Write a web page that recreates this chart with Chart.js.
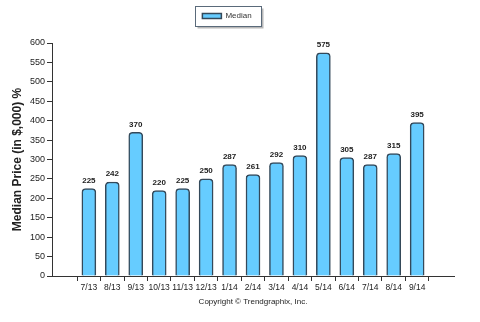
<!DOCTYPE html>
<html>
<head>
<meta charset="utf-8">
<script src="https://cdn.jsdelivr.net/npm/chart.js@4/dist/chart.umd.min.js"></script>
<style>
  html, body { margin: 0; padding: 0; background: #fff; }
  #wrap { width: 480px; height: 322px; }
</style>
</head>
<body>
<div id="wrap"><canvas id="canvas"></canvas></div>
<script>
// monthly median sale price, in $,000
var months = ["7/13", "8/13", "9/13", "10/13", "11/13", "12/13", "1/14", "2/14",
              "3/14", "4/14", "5/14", "6/14", "7/14", "8/14", "9/14"];
var median = [225, 242, 370, 220, 225, 250, 287, 261, 292, 310, 575, 305, 287, 315, 395];
var yTicks = [0, 50, 100, 150, 200, 250, 300, 350, 400, 450, 500, 550, 600];

var FONT = "'Liberation Sans', Arial, sans-serif";
var NARROW = "'Liberation Sans Narrow', 'Arial Narrow', sans-serif";
var BAR_FILL = "#66ccff";
var BAR_EDGE = "#34495a";

// value over every bar
var valueLabels = {
    id: "valueLabels",
    afterDatasetsDraw: function(chart) {
        var ctx = chart.ctx;
        var meta = chart.getDatasetMeta(0);
        ctx.save();
        ctx.font = "bold 8px " + FONT;
        ctx.fillStyle = "#222";
        ctx.textAlign = "center";
        ctx.textBaseline = "bottom";
        meta.data.forEach(function(bar, i) {
            ctx.fillText(String(median[i]), bar.x, bar.y - 4);
        });
        ctx.restore();
    }
};

// keep the legend band a fixed height so the plot starts lower
var legendHeight = {
    id: "legendHeight",
    beforeLayout: function(chart) {
        var lg = chart.legend;
        if (!lg || lg._fixedFit) return;
        var fit = lg.fit;
        lg.fit = function() {
            fit.call(this);
            this.height = 43;
        };
        lg._fixedFit = true;
    }
};

// framed legend with a small drop shadow
var legendFrame = {
    id: "legendFrame",
    beforeDraw: function(chart) {
        var boxes = chart.legend && chart.legend.legendHitBoxes;
        if (!boxes || !boxes.length) return;
        var hb = boxes[0];
        var cy = hb.top + hb.height / 2;
        var x = Math.round(hb.left) - 6.5, y = Math.round(cy - 10) + 0.5;
        var w = Math.round(hb.width) + 17, h = 20;
        var ctx = chart.ctx;
        ctx.save();
        ctx.fillStyle = "#b8b8b8";
        ctx.fillRect(x + 2, y + 2, w, h);
        ctx.fillStyle = "#fff";
        ctx.fillRect(x, y, w, h);
        ctx.strokeStyle = "#5a6a7a";
        ctx.lineWidth = 1;
        ctx.strokeRect(x, y, w, h);
        ctx.restore();
    }
};

var ctx = document.getElementById("canvas");

var barGraph = new Chart(ctx, {
    type: "bar",
    data: {
        datasets: [{
            label: "Median",
            data: median.map(function(v, i) { return { x: i, y: v }; }),
            backgroundColor: BAR_FILL,
            borderColor: BAR_EDGE,
            borderWidth: 1.5,
            borderSkipped: "bottom",
            borderRadius: { topLeft: 4, topRight: 4 },
            barThickness: 14
        }]
    },
    plugins: [legendHeight, legendFrame, valueLabels],
    options: {
        responsive: true,
        maintainAspectRatio: false,
        animation: false,
        layout: { padding: { left: 0, right: 26, top: 0, bottom: 10 } },
        plugins: {
            tooltip: { enabled: false },
            legend: {
                position: "top",
                labels: {
                    boxWidth: 19,
                    boxHeight: 5,
                    padding: 12,
                    color: "#333",
                    font: { family: FONT, size: 8 }
                }
            }
        },
        scales: {
            x: {
                type: "linear",
                min: -1,
                max: months.length,
                afterBuildTicks: function(scale) {
                    scale.ticks = months.map(function(m, i) { return { value: i }; });
                },
                afterFit: function(scale) { scale.height = 36; },
                grid: {
                    drawOnChartArea: false,
                    drawTicks: true,
                    tickLength: 5,
                    color: "#333"
                },
                border: { color: "#333", width: 1 },
                ticks: {
                    autoSkip: false,
                    maxRotation: 0,
                    padding: 2,
                    color: "#222",
                    font: { family: NARROW, size: 8.5 },
                    callback: function(v) { return months[v]; }
                },
                title: {
                    display: true,
                    text: "Copyright \u00a9 Trendgraphix, Inc.",
                    color: "#222",
                    font: { family: FONT, size: 8 },
                    padding: { top: 0, bottom: 5 }
                }
            },
            y: {
                min: 0,
                max: 600,
                afterBuildTicks: function(scale) {
                    scale.ticks = yTicks.map(function(v) { return { value: v }; });
                },
                afterFit: function(scale) { scale.width = 52; },
                grid: {
                    drawOnChartArea: false,
                    drawTicks: true,
                    tickLength: 5,
                    color: "#333"
                },
                border: { color: "#333", width: 1 },
                ticks: {
                    padding: 2,
                    color: "#222",
                    font: { family: NARROW, size: 9 }
                },
                title: {
                    display: true,
                    text: "Median Price (in $,000) %",
                    color: "#222",
                    font: { family: FONT, size: 12, weight: "bold" },
                    padding: { top: 10, bottom: 0 }
                }
            }
        }
    }
});
</script>
</body>
</html>
